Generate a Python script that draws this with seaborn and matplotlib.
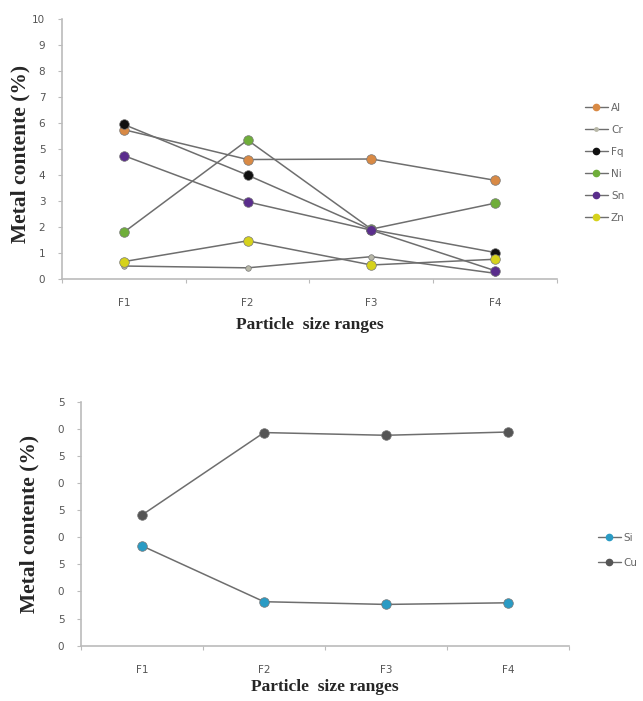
import matplotlib
matplotlib.use("Agg")
import matplotlib.pyplot as plt
from matplotlib.lines import Line2D
import numpy as np
import pandas as pd
import seaborn as sns

# ---- data -------------------------------------------------------------
fractions = ["F1", "F2", "F3", "F4"]

al = [5.75, 4.60, 4.62, 3.80]
cr = [0.50, 0.43, 0.86, 0.22]
fe = [5.95, 4.00, 1.90, 1.02]
ni = [1.80, 5.35, 1.92, 2.92]
sn = [4.75, 2.97, 1.88, 0.32]
zn = [0.67, 1.47, 0.54, 0.76]

si = [18.4, 8.1, 7.6, 7.9]
cu = [24.1, 39.3, 38.8, 39.4]

top_metals = ["Al", "Cr", "Fe", "Ni", "Sn", "Zn"]
top_legend = ["Al", "Cr", "Fq", "Ni", "Sn", "Zn"]
top_colors = ["#D98A45", "#B8B8A8", "#101010", "#6FAE3A", "#5A2D8C", "#D6D21C"]
top_yticks = [0, 1, 2, 3, 4, 5, 6, 7, 8, 9, 10]

bottom_metals = ["Si", "Cu"]
bottom_colors = ["#2A9BC4", "#555555"]
bottom_yticks = [0, 5, 10, 15, 20, 25, 30, 35, 40, 45]
bottom_yticklabels = ["0", "5", "0", "5", "0", "5", "0", "5", "0", "5"]

ylabel = "Metal contente (%)"
xlabel = "Particle  size ranges"

# ---- long-form tables ---------------------------------------------------
top_df = pd.DataFrame({
    "fraction": np.tile(np.arange(len(fractions)), len(top_metals)),
    "metal": np.repeat(top_metals, len(fractions)),
    "value": np.concatenate([al, cr, fe, ni, sn, zn]),
})
bottom_df = pd.DataFrame({
    "fraction": np.tile(np.arange(len(fractions)), len(bottom_metals)),
    "metal": np.repeat(bottom_metals, len(fractions)),
    "value": np.concatenate([si, cu]),
})

sns.set_style("white")
plt.rcParams["font.family"] = ["DejaVu Sans"]

fig = plt.figure(figsize=(6.43, 7.01), dpi=100)
ax1 = fig.add_axes([0.0964, 0.602, 0.7698, 0.3705])
ax2 = fig.add_axes([0.126, 0.079, 0.759, 0.348])

line_gray = "#6E6E6E"
serif = ["Liberation Serif", "DejaVu Serif"]


def draw_panel(ax, df, metals, colors, marker_sizes):
    sns.lineplot(data=df, x="fraction", y="value", units="metal",
                 estimator=None, color=line_gray, linewidth=1.1,
                 ax=ax, legend=False, sort=False)
    pal = dict(zip(metals, colors))
    for m in metals:
        sub = df[df["metal"] == m]
        sns.scatterplot(data=sub, x="fraction", y="value", color=pal[m],
                        s=marker_sizes.get(m, 48), edgecolor="#777777",
                        linewidth=0.5, ax=ax, legend=False, zorder=3)


def style_axes(ax, yticks, ylabels, ymax):
    ax.set_xlim(-0.5, len(fractions) - 0.5)
    ax.set_ylim(0, ymax)
    ax.set_xticks(range(len(fractions)))
    ax.set_xticklabels(fractions)
    ax.set_xticks(np.arange(-0.5, len(fractions)), minor=True)
    ax.tick_params(axis="x", which="major", length=0, pad=14,
                   labelsize=7.5, labelcolor="#555555")
    ax.tick_params(axis="x", which="minor", length=3, width=0.8,
                   color="#BBBBBB", direction="out", bottom=True)
    ax.set_yticks(yticks)
    ax.set_yticklabels(ylabels)
    ax.tick_params(axis="y", length=3, width=0.8, color="#BBBBBB",
                   pad=9, labelsize=7.5, labelcolor="#555555", left=True)
    for side in ["top", "right"]:
        ax.spines[side].set_visible(False)
    for side in ["left", "bottom"]:
        ax.spines[side].set_color("#BBBBBB")
        ax.spines[side].set_linewidth(1.2)
    ax.set_xlabel("")
    ax.set_ylabel("")


def add_labels(ax, ylab_xy, xlab_pad):
    ax.set_ylabel(ylabel, family=serif, fontweight="bold", fontsize=15.5)
    ax.yaxis.label.set_va("center")
    ax.yaxis.set_label_coords(*ylab_xy)
    ax.set_xlabel(xlabel, family=serif, fontweight="bold", fontsize=12.5,
                  labelpad=xlab_pad)


# ---- top panel ----------------------------------------------------------
draw_panel(ax1, top_df, top_metals, top_colors, {"Cr": 16})
style_axes(ax1, top_yticks, [str(t) for t in top_yticks], 10)
add_labels(ax1, (-0.083, 0.48), 6)

handles = [Line2D([], [], color=line_gray, linewidth=1.0, marker="o",
                  markersize=(2.5 if m == "Cr" else 4.5), markerfacecolor=c,
                  markeredgecolor=c)
           for m, c in zip(top_metals, top_colors)]
fig.legend(handles, top_legend, loc="upper left",
           bbox_to_anchor=(0.895, 0.867), frameon=False, fontsize=7.5,
           labelcolor="#666666", handlelength=2.2, handletextpad=0.3,
           labelspacing=1.15)

# ---- bottom panel -------------------------------------------------------
draw_panel(ax2, bottom_df, bottom_metals, bottom_colors, {})
style_axes(ax2, bottom_yticks, bottom_yticklabels, 45)
add_labels(ax2, (-0.105, 0.50), 3)

handles2 = [Line2D([], [], color=line_gray, linewidth=1.0, marker="o",
                   markersize=4.5, markerfacecolor=c, markeredgecolor=c)
            for c in bottom_colors]
fig.legend(handles2, bottom_metals, loc="upper left",
           bbox_to_anchor=(0.915, 0.253), frameon=False, fontsize=7.5,
           labelcolor="#666666", handlelength=2.2, handletextpad=0.3,
           labelspacing=1.45)

fig.savefig("out.png", dpi=100, facecolor="white")
